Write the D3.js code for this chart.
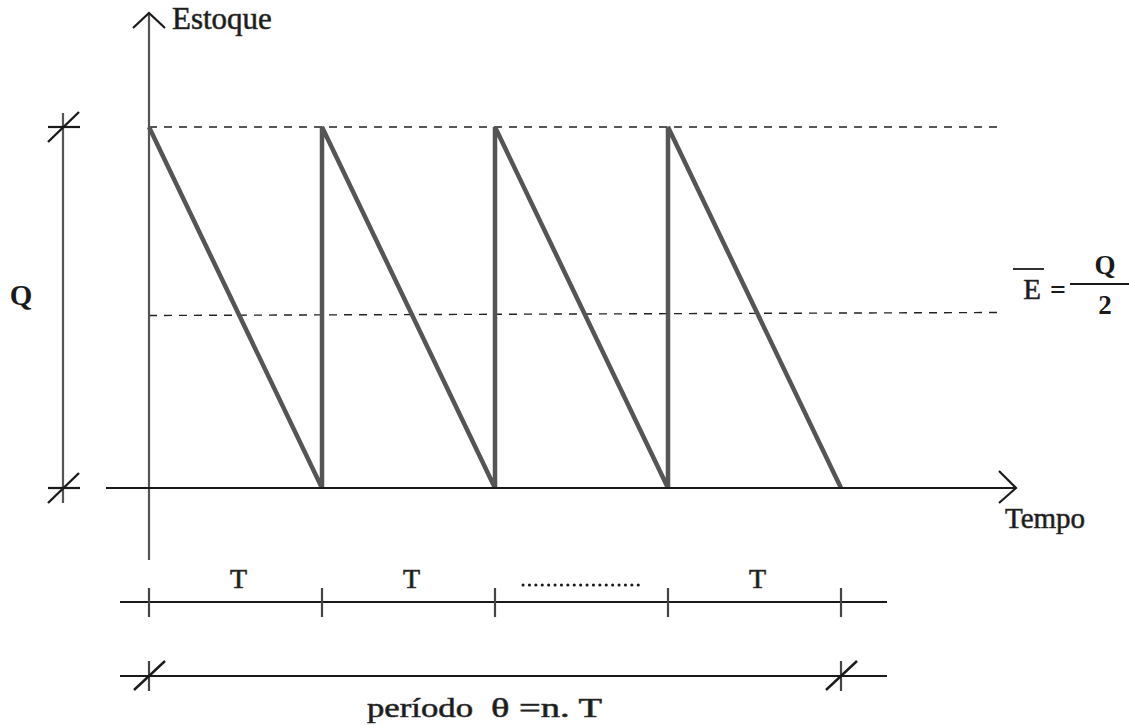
<!DOCTYPE html>
<html><head><meta charset="utf-8">
<script src="https://cdn.jsdelivr.net/npm/d3@7"></script>
<style>body{margin:0;background:#fff}svg{display:block}text{font-family:"Liberation Serif","Times New Roman",serif;fill:#1a1a1a}</style>
</head><body><svg id="c" width="1129" height="725"></svg>
<script>
const cycleStarts = [0, 1, 2, 3];
const stockLevels = [1, 0.5];          // Q and Q/2 (fractions of Q)
const periodTicks = [0, 1, 2, 3, 4];
const periodLabels = ["T", "T", "", "T"];
const Q = 1;

const svg = d3.select("#c");
const x = d3.scaleLinear().domain([0, 4]).range([149, 841]);
const y = d3.scaleLinear().domain([0, 1]).range([488, 127]);
const ink = "#1a1a1a";

// dashed levels (scan is slightly skewed on the Q/2 line)
const skew = {1: [0, 0], 0.5: [8, 5]};
stockLevels.forEach(v => {
  svg.append("line").attr("x1", x(0)).attr("x2", 997)
    .attr("y1", y(v * Q) + skew[v][0]).attr("y2", y(v * Q) + skew[v][1])
    .attr("stroke", "#222").attr("stroke-width", 1.4).attr("stroke-dasharray", "8,7");
});

// sawtooth
const pts = [];
cycleStarts.forEach(s => { pts.push([s, 0]); pts.push([s, Q]); pts.push([s + 1, 0]); });
pts.shift();
svg.append("path").attr("d", d3.line().x(d => x(d[0])).y(d => y(d[1]))(pts))
  .attr("fill", "none").attr("stroke", "#555").attr("stroke-width", 4.5).attr("stroke-linejoin", "miter");

// axes
svg.append("line").attr("x1", x(0)).attr("x2", x(0)).attr("y1", 14).attr("y2", 560).attr("stroke", "#555").attr("stroke-width", 2.2);
svg.append("path").attr("d", `M${x(0)-16},28 L${x(0)},13 L${x(0)+16},28`).attr("fill", "none").attr("stroke", ink).attr("stroke-width", 2.2);
svg.append("line").attr("x1", 106).attr("x2", 1015).attr("y1", y(0)).attr("y2", y(0)).attr("stroke", ink).attr("stroke-width", 2.2);
svg.append("path").attr("d", `M999,471 L1016,${y(0)} L999,503`).attr("fill", "none").attr("stroke", ink).attr("stroke-width", 2.2);

svg.append("text").attr("x", 172).attr("y", 29).attr("font-size", 31)
  .attr("stroke", "#333").attr("stroke-width", 0.6).text("Estoque");
svg.append("text").attr("x", 1005).attr("y", 528).attr("font-size", 29)
  .attr("stroke", "#333").attr("stroke-width", 0.6).text("Tempo");

// Q bracket
const bx = 63;
svg.append("line").attr("x1", bx).attr("x2", bx).attr("y1", 113).attr("y2", 503).attr("stroke", "#555").attr("stroke-width", 2.2);
[Q, 0].forEach(v => {
  const yy = y(v);
  svg.append("line").attr("x1", bx - 15).attr("x2", bx + 17).attr("y1", yy).attr("y2", yy).attr("stroke", ink).attr("stroke-width", 2.2);
  svg.append("line").attr("x1", bx - 15).attr("x2", bx + 16).attr("y1", yy + 15).attr("y2", yy - 15).attr("stroke", ink).attr("stroke-width", 2.4);
});
svg.append("text").attr("x", 21).attr("y", 305).attr("text-anchor", "middle").attr("font-size", 29).attr("font-weight", "bold").text("Q");

// E = Q/2
svg.append("line").attr("x1", 1013).attr("x2", 1044).attr("y1", 269).attr("y2", 269).attr("stroke", ink).attr("stroke-width", 1.8);
svg.append("text").attr("x", 1032).attr("y", 299).attr("text-anchor", "middle").attr("font-size", 29).attr("stroke", "#333").attr("stroke-width", 0.6).text("E");
svg.append("text").attr("x", 1058).attr("y", 299).attr("text-anchor", "middle").attr("font-size", 28).attr("font-weight", "bold").text("=");
svg.append("line").attr("x1", 1070).attr("x2", 1129).attr("y1", 284).attr("y2", 284).attr("stroke", ink).attr("stroke-width", 2.2);
svg.append("text").attr("x", 1105).attr("y", 274).attr("text-anchor", "middle").attr("font-size", 27).attr("font-weight", "bold").text("Q");
svg.append("text").attr("x", 1105).attr("y", 314).attr("text-anchor", "middle").attr("font-size", 27).attr("font-weight", "bold").text("2");

// T row
const ry = 602;
svg.append("line").attr("x1", 120).attr("x2", 887).attr("y1", ry).attr("y2", ry).attr("stroke", ink).attr("stroke-width", 2.2);
svg.selectAll(".tk").data(periodTicks).enter().append("line")
  .attr("x1", d => x(d)).attr("x2", d => x(d)).attr("y1", ry - 14).attr("y2", ry + 15).attr("stroke", "#444").attr("stroke-width", 2.2);
svg.selectAll(".tl").data(periodLabels).enter().append("text")
  .attr("x", (d, i) => x(i + 0.5) + 3).attr("y", 588)
  .attr("text-anchor", "middle").attr("font-size", 28).attr("stroke", "#333").attr("stroke-width", 0.7)
  .text(d => d);
// dotted ellipsis in the third slot
svg.append("line").attr("x1", 523).attr("x2", 643).attr("y1", 585).attr("y2", 585)
  .attr("stroke", ink).attr("stroke-width", 3).attr("stroke-linecap", "round").attr("stroke-dasharray", "0.1,6.3");

// período row
const py = 676;
svg.append("line").attr("x1", 120).attr("x2", 887).attr("y1", py).attr("y2", py).attr("stroke", ink).attr("stroke-width", 2.2);
[periodTicks[0], periodTicks[periodTicks.length - 1]].forEach(v => {
  svg.append("line").attr("x1", x(v)).attr("x2", x(v)).attr("y1", py - 15).attr("y2", py + 15).attr("stroke", "#444").attr("stroke-width", 2.2);
  svg.append("line").attr("x1", x(v) - 15).attr("x2", x(v) + 16).attr("y1", py + 14).attr("y2", py - 15).attr("stroke", ink).attr("stroke-width", 2.4);
});
svg.append("text").attr("x", 367).attr("y", 717).attr("font-size", 28).attr("stroke", "#333").attr("stroke-width", 0.6)
  .attr("textLength", 106).attr("lengthAdjust", "spacingAndGlyphs").text("período");
svg.append("text").attr("x", 491).attr("y", 717).attr("font-size", 28).attr("stroke", "#333").attr("stroke-width", 0.6)
  .attr("textLength", 111).attr("lengthAdjust", "spacingAndGlyphs").text("θ =n. T");
</script></body></html>
